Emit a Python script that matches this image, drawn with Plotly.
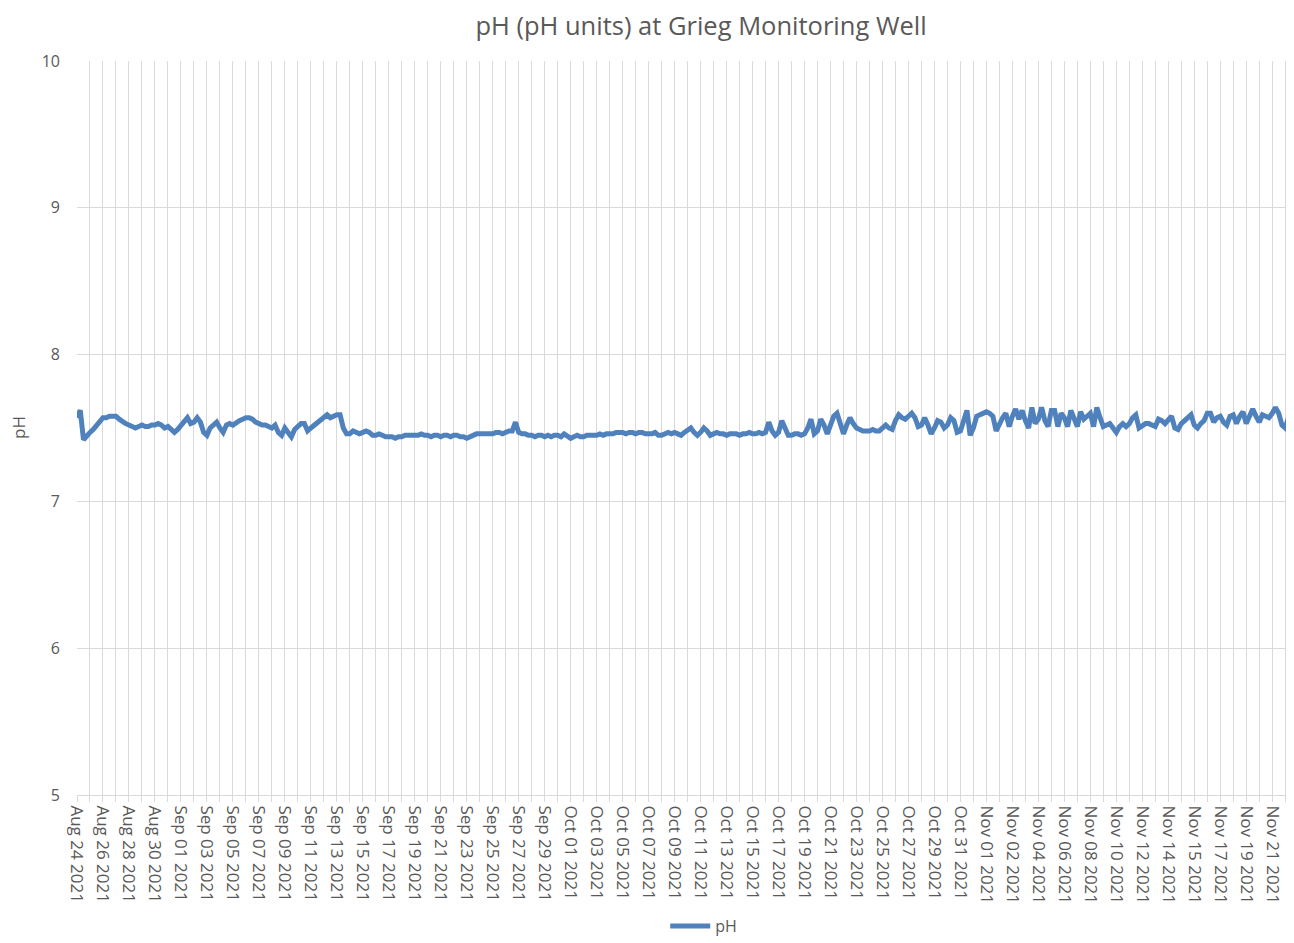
import plotly.graph_objects as go

# Tick labels (category axis, one label every 8 readings)
tick_labels = [
    "Aug 24 2021", "Aug 26 2021", "Aug 28 2021", "Aug 30 2021", "Sep 01 2021",
    "Sep 03 2021", "Sep 05 2021", "Sep 07 2021", "Sep 09 2021", "Sep 11 2021",
    "Sep 13 2021", "Sep 15 2021", "Sep 17 2021", "Sep 19 2021", "Sep 21 2021",
    "Sep 23 2021", "Sep 25 2021", "Sep 27 2021", "Sep 29 2021", "Oct 01 2021",
    "Oct 03 2021", "Oct 05 2021", "Oct 07 2021", "Oct 09 2021", "Oct 11 2021",
    "Oct 13 2021", "Oct 15 2021", "Oct 17 2021", "Oct 19 2021", "Oct 21 2021",
    "Oct 23 2021", "Oct 25 2021", "Oct 27 2021", "Oct 29 2021", "Oct 31 2021",
    "Nov 01 2021", "Nov 02 2021", "Nov 04 2021", "Nov 06 2021", "Nov 08 2021",
    "Nov 10 2021", "Nov 12 2021", "Nov 14 2021", "Nov 15 2021", "Nov 17 2021",
    "Nov 19 2021", "Nov 21 2021",
]
points_per_label = 8

# pH readings (estimated from the chart)
ph_values = [
    7.57, 7.62, 7.42, 7.45, 7.47, 7.49, 7.52, 7.55,   # Aug 24
    7.57, 7.57, 7.58, 7.58, 7.58, 7.56, 7.54, 7.53,   # Aug 26
    7.52, 7.51, 7.50, 7.51, 7.52, 7.51, 7.51, 7.52,   # Aug 28
    7.52, 7.53, 7.52, 7.50, 7.51, 7.49, 7.47, 7.49,   # Aug 30
    7.52, 7.55, 7.57, 7.53, 7.54, 7.57, 7.54, 7.47,   # Sep 01
    7.45, 7.50, 7.52, 7.54, 7.50, 7.47, 7.52, 7.53,   # Sep 03
    7.52, 7.54, 7.55, 7.56, 7.57, 7.57, 7.56, 7.54,   # Sep 05
    7.53, 7.52, 7.52, 7.51, 7.50, 7.52, 7.47, 7.45,   # Sep 07
    7.50, 7.47, 7.44, 7.49, 7.51, 7.53, 7.53, 7.48,   # Sep 09
    7.50, 7.52, 7.53, 7.55, 7.57, 7.59, 7.57, 7.58,   # Sep 11
    7.59, 7.59, 7.50, 7.46, 7.46, 7.48, 7.47, 7.46,   # Sep 13
    7.47, 7.48, 7.47, 7.45, 7.45, 7.46, 7.45, 7.44,   # Sep 15
    7.44, 7.44, 7.43, 7.44, 7.44, 7.45, 7.45, 7.45,   # Sep 17
    7.45, 7.45, 7.46, 7.45, 7.45, 7.44, 7.45, 7.45,   # Sep 19
    7.44, 7.45, 7.45, 7.44, 7.45, 7.45, 7.44, 7.44,   # Sep 21
    7.43, 7.44, 7.45, 7.46, 7.46, 7.46, 7.46, 7.46,   # Sep 23
    7.46, 7.47, 7.47, 7.46, 7.47, 7.48, 7.48, 7.54,   # Sep 25
    7.47, 7.46, 7.46, 7.45, 7.45, 7.44, 7.45, 7.45,   # Sep 27
    7.44, 7.45, 7.44, 7.45, 7.45, 7.44, 7.46, 7.44,   # Sep 29
    7.43, 7.44, 7.45, 7.44, 7.44, 7.45, 7.45, 7.45,   # Oct 01
    7.45, 7.46, 7.45, 7.46, 7.46, 7.46, 7.47, 7.47,   # Oct 03
    7.47, 7.46, 7.47, 7.47, 7.46, 7.47, 7.47, 7.46,   # Oct 05
    7.46, 7.46, 7.47, 7.45, 7.45, 7.46, 7.47, 7.46,   # Oct 07
    7.47, 7.46, 7.45, 7.47, 7.49, 7.50, 7.47, 7.45,   # Oct 09
    7.47, 7.50, 7.48, 7.45, 7.46, 7.47, 7.46, 7.46,   # Oct 11
    7.45, 7.46, 7.46, 7.46, 7.45, 7.46, 7.46, 7.47,   # Oct 13
    7.46, 7.46, 7.47, 7.46, 7.47, 7.54, 7.48, 7.45,   # Oct 15
    7.47, 7.55, 7.50, 7.45, 7.45, 7.46, 7.46, 7.45,   # Oct 17
    7.46, 7.50, 7.56, 7.46, 7.48, 7.56, 7.52, 7.46,   # Oct 19
    7.52, 7.58, 7.60, 7.52, 7.46, 7.52, 7.57, 7.53,   # Oct 21
    7.50, 7.49, 7.48, 7.48, 7.48, 7.49, 7.48, 7.48,   # Oct 23
    7.50, 7.52, 7.50, 7.49, 7.55, 7.59, 7.57, 7.56,   # Oct 25
    7.58, 7.60, 7.57, 7.51, 7.52, 7.57, 7.52, 7.46,   # Oct 27
    7.50, 7.55, 7.54, 7.50, 7.52, 7.57, 7.55, 7.47,   # Oct 29
    7.48, 7.56, 7.62, 7.45, 7.50, 7.58, 7.59, 7.60,   # Oct 31
    7.61, 7.60, 7.58, 7.48, 7.53, 7.57, 7.60, 7.51,   # Nov 01
    7.58, 7.63, 7.56, 7.62, 7.55, 7.50, 7.64, 7.53,   # Nov 02
    7.56, 7.64, 7.55, 7.51, 7.62, 7.62, 7.51, 7.60,   # Nov 04
    7.57, 7.51, 7.62, 7.56, 7.51, 7.61, 7.56, 7.58,   # Nov 06
    7.60, 7.51, 7.64, 7.57, 7.51, 7.52, 7.53, 7.50,   # Nov 08
    7.47, 7.51, 7.53, 7.51, 7.53, 7.57, 7.59, 7.50,   # Nov 10
    7.52, 7.53, 7.53, 7.52, 7.51, 7.56, 7.55, 7.53,   # Nov 12
    7.55, 7.58, 7.50, 7.49, 7.53, 7.55, 7.58, 7.59,   # Nov 14
    7.52, 7.50, 7.53, 7.55, 7.60, 7.60, 7.54, 7.57,   # Nov 15
    7.58, 7.54, 7.52, 7.58, 7.59, 7.53, 7.58, 7.61,   # Nov 17
    7.53, 7.58, 7.63, 7.58, 7.54, 7.59, 7.58, 7.57,   # Nov 19
    7.60, 7.64, 7.60, 7.52, 7.50, 7.57, 7.55,         # Nov 21
]

x_idx = list(range(len(ph_values)))
tick_vals = [k * points_per_label for k in range(len(tick_labels))]

TEXT = "#595959"
GRID = "#d9d9d9"
FONT = "Open Sans"

fig = go.Figure()
fig.add_trace(go.Scatter(
    x=x_idx, y=ph_values, mode="lines", name="pH",
    line=dict(color="#4f81bd", width=5),
))

fig.update_layout(
    width=1286, height=935,
    margin=dict(l=69, r=1, t=53, b=148),
    paper_bgcolor="white", plot_bgcolor="white",
    font=dict(family=FONT, color=TEXT, size=16),
    title=dict(text="pH (pH units) at Grieg Monitoring Well",
               x=0.5389, xanchor="center", xref="container",
               y=0.981, yanchor="middle", yref="container",
               font=dict(size=25.5, color=TEXT, family=FONT)),
    showlegend=True,
    legend=dict(orientation="h", x=0.541, xanchor="center", xref="container",
                y=-0.008, yanchor="bottom", yref="container",
                font=dict(size=16, color=TEXT), itemwidth=40),
    annotations=[dict(text="pH", textangle=-90, x=-0.0485, xref="paper",
                      xanchor="center", y=0.5, yref="paper", yanchor="middle",
                      showarrow=False, font=dict(size=17, color=TEXT, family=FONT))],
)

fig.update_xaxes(
    automargin=False,
    range=[0, len(ph_values) - 0.6],
    tickmode="array", tickvals=tick_vals, ticktext=tick_labels,
    tickangle=90, tickfont=dict(size=17, color=TEXT, family=FONT),
    showgrid=True, gridcolor=GRID, gridwidth=1,
    showline=True, linecolor=GRID, linewidth=1,
    ticks="outside", ticklen=6, tickcolor=GRID,
    minor=dict(tickmode="linear", tick0=0, dtick=points_per_label // 2,
               showgrid=True, gridcolor=GRID, gridwidth=1,
               ticks="outside", ticklen=6, tickcolor=GRID),
    zeroline=False,
)
fig.update_yaxes(
    automargin=False,
    range=[5, 10], dtick=1,
    showgrid=True, gridcolor=GRID, gridwidth=1,
    showline=False, zeroline=False,
    ticks="", ticklabelstandoff=16,
    tickfont=dict(size=16, color=TEXT, family=FONT),
)

fig.write_html("out.html")
